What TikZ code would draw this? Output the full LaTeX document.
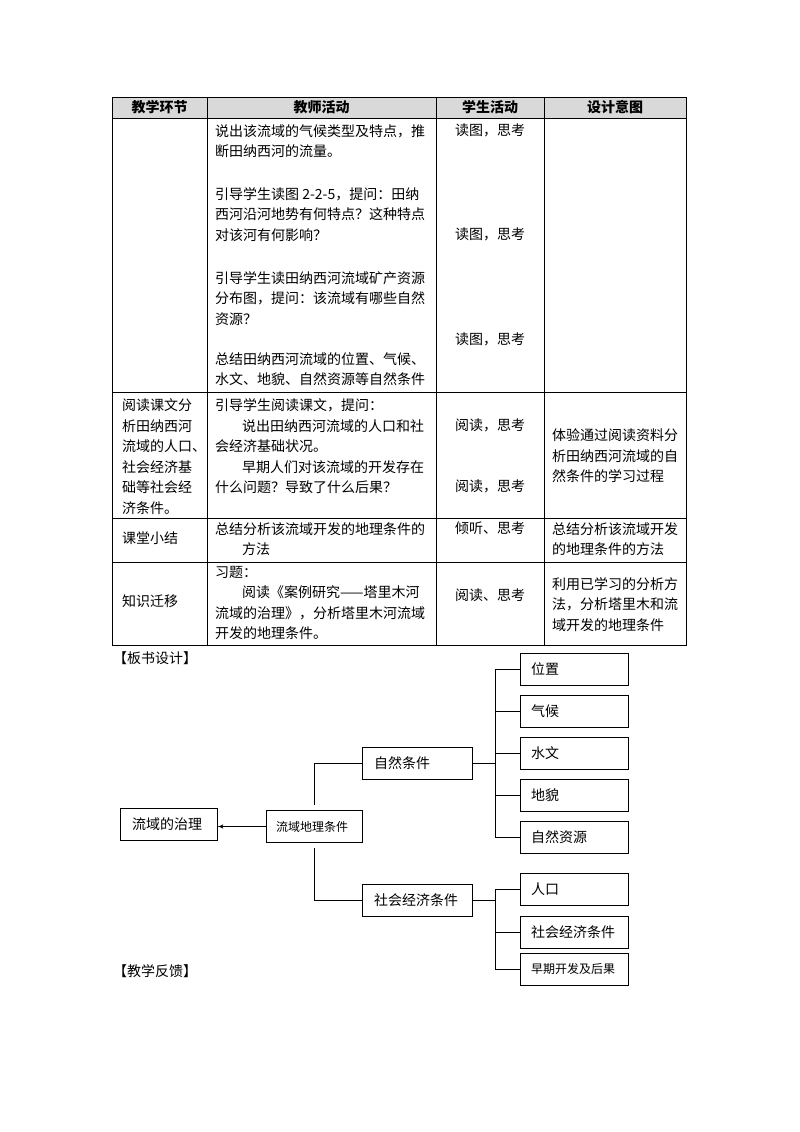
\documentclass[tikz,border=0pt]{standalone}
\usepackage{fontspec}
\setmainfont{Noto Sans CJK SC}
\usetikzlibrary{arrows,positioning}
\newcommand*{\ind}{\hspace*{27pt}}
\newcommand*{\cellfont}{\fontsize{14}{20.5}\selectfont}
\newcommand*{\smallcellfont}{\fontsize{12}{16}\selectfont}

\begin{document}
\begin{tikzpicture}[x=1pt, y=-1pt,
    cell/.style ={inner sep=0pt, anchor=north west, align=left, font=\cellfont},
    cell_center/.style ={inner sep=0pt, anchor=north, align=center, font=\cellfont},
    head/.style ={inner sep=0pt, font=\cellfont\bfseries},
    grid/.style ={draw=black, line width=1pt},
    block/.style ={rectangle, draw=black, line width=1pt, fill=white,
      minimum height=32pt, align=left, font=\cellfont},
    block_item/.style ={block, text width=86pt, inner xsep=11pt},
    line/.style ={draw, line width=1pt, -latex'},
    conn/.style ={draw, line width=1pt}]
    \fill[white] (0,0) rectangle (800,1132);
    \useasboundingbox (0,0) rectangle (800,1132);
    % table grid
    \fill[gray!30] (112,97) rectangle (686,118);
    \draw[grid] (112,97) rectangle (686,645);
    \foreach \y in {118,392,518,562} \draw[grid] (112,\y) -- (686,\y);
    \foreach \x in {207,436,544} \draw[grid] (\x,97) -- (\x,645);
    % header
    \node[head] (h_step) at (159.5,107.5) {教学环节};
    \node[head] (h_teacher) at (321.5,107.5) {教师活动};
    \node[head] (h_student) at (490,107.5) {学生活动};
    \node[head] (h_intent) at (615,107.5) {设计意图};
    % row 1
    \node[cell] (r1_t1) at (215,124) {说出该流域的气候类型及特点，推\\断田纳西河的流量。};
    \node[cell] (r1_t2) at (215,187) {引导学生读图 2-2-5，提问：田纳\\西河沿河地势有何特点？这种特点\\对该河有何影响？};
    \node[cell] (r1_t3) at (215,271) {引导学生读田纳西河流域矿产资源\\分布图，提问：该流域有哪些自然\\资源？};
    \node[cell] (r1_t4) at (215,352) {总结田纳西河流域的位置、气候、\\水文、地貌、自然资源等自然条件};
    \node[cell_center] (r1_s1) at (490,124) {读图，思考};
    \node[cell_center] (r1_s2) at (490,228) {读图，思考};
    \node[cell_center] (r1_s3) at (490,333) {读图，思考};
    % row 2
    \node[cell] (r2_step) at (122,398.5) {阅读课文分\\析田纳西河\\流域的人口、\\社会经济基\\础等社会经\\济条件。};
    \node[cell] (r2_t) at (215,398.5) {引导学生阅读课文，提问：\\\ind 说出田纳西河流域的人口和社\\会经济基础状况。\\\ind 早期人们对该流域的开发存在\\什么问题？导致了什么后果？};
    \node[cell_center] (r2_s1) at (490,418.5) {阅读，思考};
    \node[cell_center] (r2_s2) at (490,480) {阅读，思考};
    \node[cell] (r2_intent) at (552,428.5) {体验通过阅读资料分\\析田纳西河流域的自\\然条件的学习过程};
    % row 3
    \node[cell] (r3_step) at (122,532) {课堂小结};
    \node[cell] (r3_t) at (215,522) {总结分析该流域开发的地理条件的\\\ind 方法};
    \node[cell_center] (r3_s) at (490,522) {倾听、思考};
    \node[cell] (r3_intent) at (552,522) {总结分析该流域开发\\的地理条件的方法};
    % row 4
    \node[cell] (r4_step) at (122,594.5) {知识迁移};
    \node[cell] (r4_t) at (215,566) {习题：\\\ind 阅读《案例研究——塔里木河\\流域的治理》，分析塔里木河流域\\开发的地理条件。};
    \node[cell_center] (r4_s) at (490,588.5) {阅读、思考};
    \node[cell] (r4_intent) at (552,577) {利用已学习的分析方\\法，分析塔里木和流\\域开发的地理条件};
    % section titles
    \node[inner sep=0pt, anchor=west, font=\cellfont] (board) at (113,658) {【板书设计】};
    \node[inner sep=0pt, anchor=west, font=\cellfont] (feedback) at (113,971) {【教学反馈】};
    % board diagram
    \node[block, text width=73pt, inner xsep=12pt] (gov) at (168.5,824) {流域的治理};
    \node[block, text width=76pt, inner xsep=10pt, font=\smallcellfont] (geo) at (314,826.5) {流域地理条件};
    \node[block, text width=86pt, inner xsep=12pt] (nat) at (417,763.5) {自然条件};
    \node[block, text width=86pt, inner xsep=12pt] (soc) at (417,900) {社会经济条件};
    \node[block_item] (pos) at (574,669) {位置};
    \node[block_item, below=9pt of pos] (cli) {气候};
    \node[block_item, below=9pt of cli] (hyd) {水文};
    \node[block_item, below=9pt of hyd] (land) {地貌};
    \node[block_item, below=9pt of land] (res) {自然资源};
    \node[block_item] (pop) at (574,889) {人口};
    \node[block_item, below=10pt of pop] (econ) {社会经济条件};
    \node[block_item, below=4pt of econ, font=\smallcellfont] (early) {早期开发及后果};
    % connecting nodes
    \path[line] (geo.west) -- (gov.east |- geo.west);
    \path[conn, shorten <=5pt] (geo) |- (nat);
    \path[conn, shorten <=5pt] (geo) |- (soc);
    \coordinate (nspine) at (495,0);
    \coordinate (sspine) at (495,0);
    \path[conn] (nat.east) -- (nspine |- nat.east);
    \path[conn] (nspine |- pos) -- (nspine |- res);
    \foreach \n in {pos,cli,hyd,land,res} \path[conn] (nspine |- \n) -- (\n);
    \path[conn] (soc.east) -- (sspine |- soc.east);
    \path[conn] (sspine |- pop) -- (sspine |- early);
    \foreach \n in {pop,econ,early} \path[conn] (sspine |- \n) -- (\n);
\end{tikzpicture}
\end{document}
